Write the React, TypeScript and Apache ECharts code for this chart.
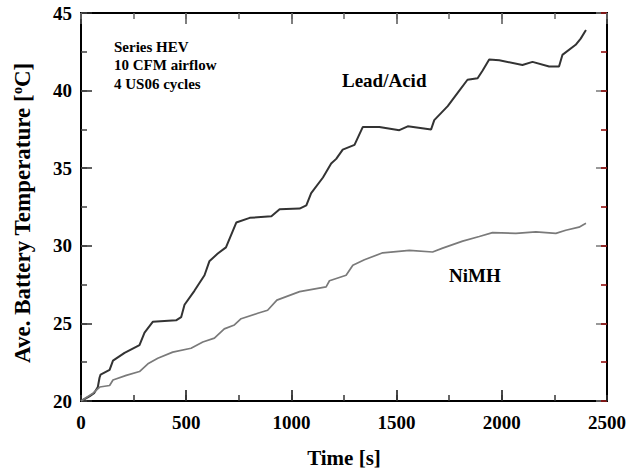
import React, { useEffect, useRef } from "react";
import * as echarts from "echarts";

const leadTime = [0, 40, 62, 80, 88, 93, 136, 152, 207, 278, 302, 341, 452, 476, 492, 539, 587, 610, 650, 689, 738, 802, 905, 944, 1039, 1071, 1094, 1150, 1189, 1213, 1244, 1300, 1339, 1418, 1513, 1553, 1664, 1679, 1743, 1798, 1837, 1885, 1909, 1940, 1988, 2098, 2146, 2225, 2272, 2288, 2351, 2375, 2400];
const leadTemp = [20, 20.3, 20.5, 20.9, 21.5, 21.7, 22.0, 22.6, 23.1, 23.6, 24.4, 25.1, 25.2, 25.4, 26.2, 27.1, 28.1, 29.0, 29.5, 29.9, 31.5, 31.8, 31.9, 32.35, 32.4, 32.6, 33.4, 34.4, 35.3, 35.6, 36.2, 36.5, 37.65, 37.65, 37.45, 37.7, 37.5, 38.1, 39.0, 40.0, 40.7, 40.8, 41.3, 42.0, 41.95, 41.65, 41.85, 41.55, 41.55, 42.3, 42.95, 43.35, 43.9];

const nimhTime = [0, 57, 89, 136, 152, 215, 278, 318, 365, 436, 523, 579, 634, 681, 729, 761, 840, 887, 931, 1039, 1165, 1181, 1260, 1292, 1347, 1434, 1561, 1671, 1719, 1814, 1893, 1956, 2067, 2162, 2257, 2304, 2367, 2400];
const nimhTemp = [20, 20.5, 20.9, 21.0, 21.35, 21.65, 21.9, 22.4, 22.75, 23.15, 23.4, 23.8, 24.05, 24.65, 24.9, 25.3, 25.65, 25.85, 26.5, 27.05, 27.35, 27.75, 28.1, 28.75, 29.1, 29.55, 29.7, 29.6, 29.85, 30.3, 30.6, 30.85, 30.8, 30.9, 30.8, 31.0, 31.2, 31.45];

const xTicks = [0, 500, 1000, 1500, 2000, 2500];
const yTicks = [20, 25, 30, 35, 40, 45];
const noteLines = ["Series HEV", "10 CFM airflow", "4 US06 cycles"];
const seriesNames = ["Lead/Acid", "NiMH"];

const FONT = "'Liberation Serif', 'Times New Roman', serif";

const X_MIN = xTicks[0];
const X_MAX = xTicks[xTicks.length - 1];
const X_STEP = xTicks[1] - xTicks[0];
const Y_MIN = yTicks[0];
const Y_MAX = yTicks[yTicks.length - 1];
const Y_STEP = yTicks[1] - yTicks[0];

function axis(min: number, max: number, interval: number, position: string, tickLen: number, color: string, extra: any = {}) {
  return {
    type: "value", min, max, interval, position,
    axisLine: { show: true, onZero: false, lineStyle: { color: "#000", width: 2 } },
    axisTick: { show: true, inside: true, length: tickLen, lineStyle: { color, width: 1.5 } },
    splitLine: { show: false },
    axisLabel: { show: false },
    ...extra,
  };
}

export default function App() {
  const ref = useRef<HTMLDivElement>(null);
  useEffect(() => {
    document.body.style.margin = "0";
    const chart = echarts.init(ref.current!, null, { renderer: "svg" });
    const labelStyle = {
      show: true, fontFamily: FONT, fontWeight: "bold" as const, fontSize: 19, color: "#000",
      formatter: (v: number) => String(v),
    };
    chart.setOption({
      animation: false,
      backgroundColor: "#fff",
      grid: { left: 81, right: 21, top: 13, bottom: 72 },
      xAxis: [
        axis(X_MIN, X_MAX, X_STEP, "bottom", 11, "rgba(0,0,0,0.95)", {
          axisLabel: { ...labelStyle, margin: 12 },
          name: "Time [s]", nameLocation: "middle", nameGap: 46,
          nameTextStyle: { fontFamily: FONT, fontWeight: "bold", fontSize: 21, color: "#000" },
        }),
        axis(X_MIN, X_MAX, X_STEP, "top", 11, "#555"),
        axis(X_MIN, X_MAX, X_STEP / 2, "bottom", 6, "#333"),
        axis(X_MIN, X_MAX, X_STEP / 2, "top", 6, "#666"),
      ],
      yAxis: [
        axis(Y_MIN, Y_MAX, Y_STEP, "left", 11, "#2b2b2b", { axisLabel: { ...labelStyle, margin: 9 } }),
        axis(Y_MIN, Y_MAX, Y_STEP, "right", 11, "#777"),
        axis(Y_MIN, Y_MAX, Y_STEP / 2, "left", 6, "#404040"),
        axis(Y_MIN, Y_MAX, Y_STEP / 2, "right", 6, "#8b0000"),
      ],
      series: [
        {
          name: seriesNames[0], type: "line", showSymbol: false, symbol: "none",
          xAxisIndex: 0, yAxisIndex: 0,
          data: leadTime.map((t, i) => [t, leadTemp[i]]),
          lineStyle: { color: "#333", width: 2 },
        },
        {
          name: seriesNames[1], type: "line", showSymbol: false, symbol: "none",
          xAxisIndex: 0, yAxisIndex: 0,
          data: nimhTime.map((t, i) => [t, nimhTemp[i]]),
          lineStyle: { color: "#7a7a7a", width: 1.7 },
        },
      ],
      graphic: [
        {
          type: "text", x: 22, y: 213, rotation: Math.PI / 2,
          style: {
            text: "Ave. Battery Temperature [{sup|o}C]",
            font: `bold 23px ${FONT}`, fill: "#000", align: "center", verticalAlign: "middle",
            rich: { sup: { fontFamily: FONT, fontWeight: "bold", fontSize: 14, fill: "#000", verticalAlign: "top", lineHeight: 23 } },
          },
        },
        {
          type: "text", left: 114, top: 38,
          style: { text: noteLines.join("\n"), font: `bold 15px ${FONT}`, fill: "#000", lineHeight: 18.3 },
        },
        {
          type: "text", left: 342, top: 71,
          style: { text: seriesNames[0], font: `bold 19px ${FONT}`, fill: "#000" },
        },
        {
          type: "text", left: 449, top: 266,
          style: { text: seriesNames[1], font: `bold 19px ${FONT}`, fill: "#000" },
        },
      ],
    });
    return () => chart.dispose();
  }, []);
  return <div ref={ref} style={{ width: 629, height: 473 }} />;
}
